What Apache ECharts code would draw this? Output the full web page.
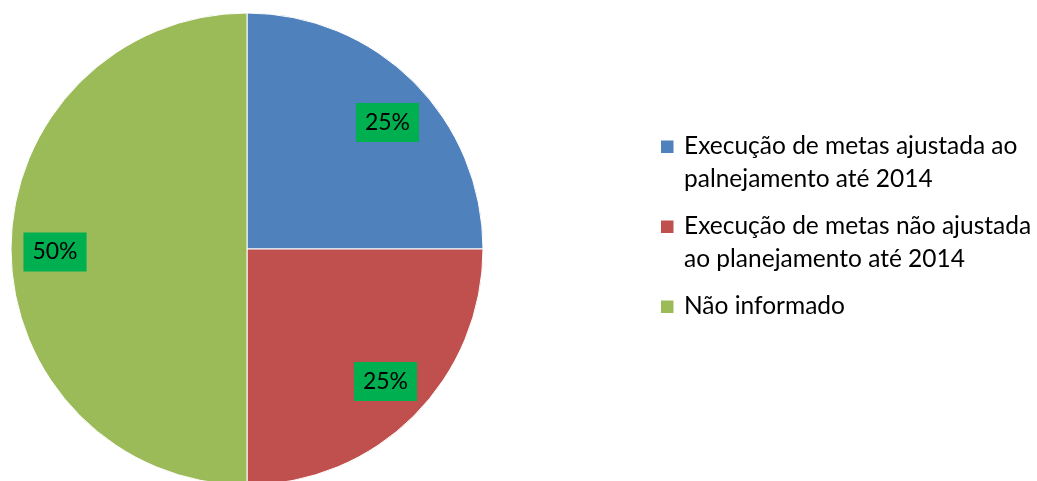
<!DOCTYPE html>
<html>
<head>
<meta charset="utf-8">
<script src="https://cdn.jsdelivr.net/npm/echarts@6/dist/echarts.min.js"></script>
<style>
html,body{margin:0;padding:0;background:#fff;}
#chart{width:1037px;height:481px;}
</style>
</head>
<body>
<div id="chart"></div>
<script>
var categories = [
  'Execução de metas ajustada ao palnejamento até 2014',
  'Execução de metas não ajustada ao planejamento até 2014',
  'Não informado'
];
var legendLabels = [
  'Execução de metas ajustada ao\npalnejamento até 2014',
  'Execução de metas não ajustada\nao planejamento até 2014',
  'Não informado\n '
];
var values = [25, 25, 50];
var colors = ['#4F81BD', '#C0504D', '#9BBB59'];

var chart = echarts.init(document.getElementById('chart'), null, {renderer: 'canvas'});
var font = 'Lato, "Liberation Sans", sans-serif';

// small nudges of the data labels, as Excel placed them
var labelNudges = [[4, 10], [2, -4], [1, 3]];

var mainData = categories.map(function (c, i) {
  return {name: c, value: values[i], itemStyle: {color: colors[i]}};
});
var labelData = categories.map(function (c, i) {
  return {name: c, value: values[i], label: {offset: labelNudges[i]}};
});

// square icon aligned with the first text line; tiny corner dots define the icon box
var iconPath = 'path://M0,10.5H12.5V23H0Z M0,0H0.05V0.05H0Z M17.95,65.95H18V66H17.95Z';

chart.setOption({
  animation: false,
  backgroundColor: '#ffffff',
  legend: {
    orient: 'vertical',
    left: 661,
    top: 130,
    padding: 0,
    itemWidth: 18,
    itemHeight: 66,
    itemGap: 14,
    icon: iconPath,
    itemStyle: {borderWidth: 0},
    selectedMode: false,
    data: categories.slice(),
    formatter: function (name) {
      return legendLabels[categories.indexOf(name)];
    },
    textStyle: {
      fontFamily: font,
      fontSize: 24.5,
      lineHeight: 33,
      color: '#000'
    }
  },
  series: [
    {
      type: 'pie',
      center: [247, 249],
      radius: [0, 236],
      startAngle: 90,
      clockwise: true,
      silent: true,
      itemStyle: {borderColor: '#ffffff', borderWidth: 1},
      label: {show: false},
      labelLine: {show: false},
      data: mainData
    },
    {
      type: 'pie',
      center: [247, 249],
      radius: [144, 236],
      startAngle: 90,
      clockwise: true,
      silent: true,
      itemStyle: {color: 'rgba(0,0,0,0)', borderWidth: 0},
      labelLine: {show: false},
      label: {
        show: true,
        position: 'inside',
        formatter: '{d}%',
        fontFamily: font,
        fontSize: 23,
        lineHeight: 27,
        color: '#000',
        backgroundColor: '#00B050',
        padding: [7, 9, 5, 9]
      },
      data: labelData
    }
  ]
});
</script>
</body>
</html>
